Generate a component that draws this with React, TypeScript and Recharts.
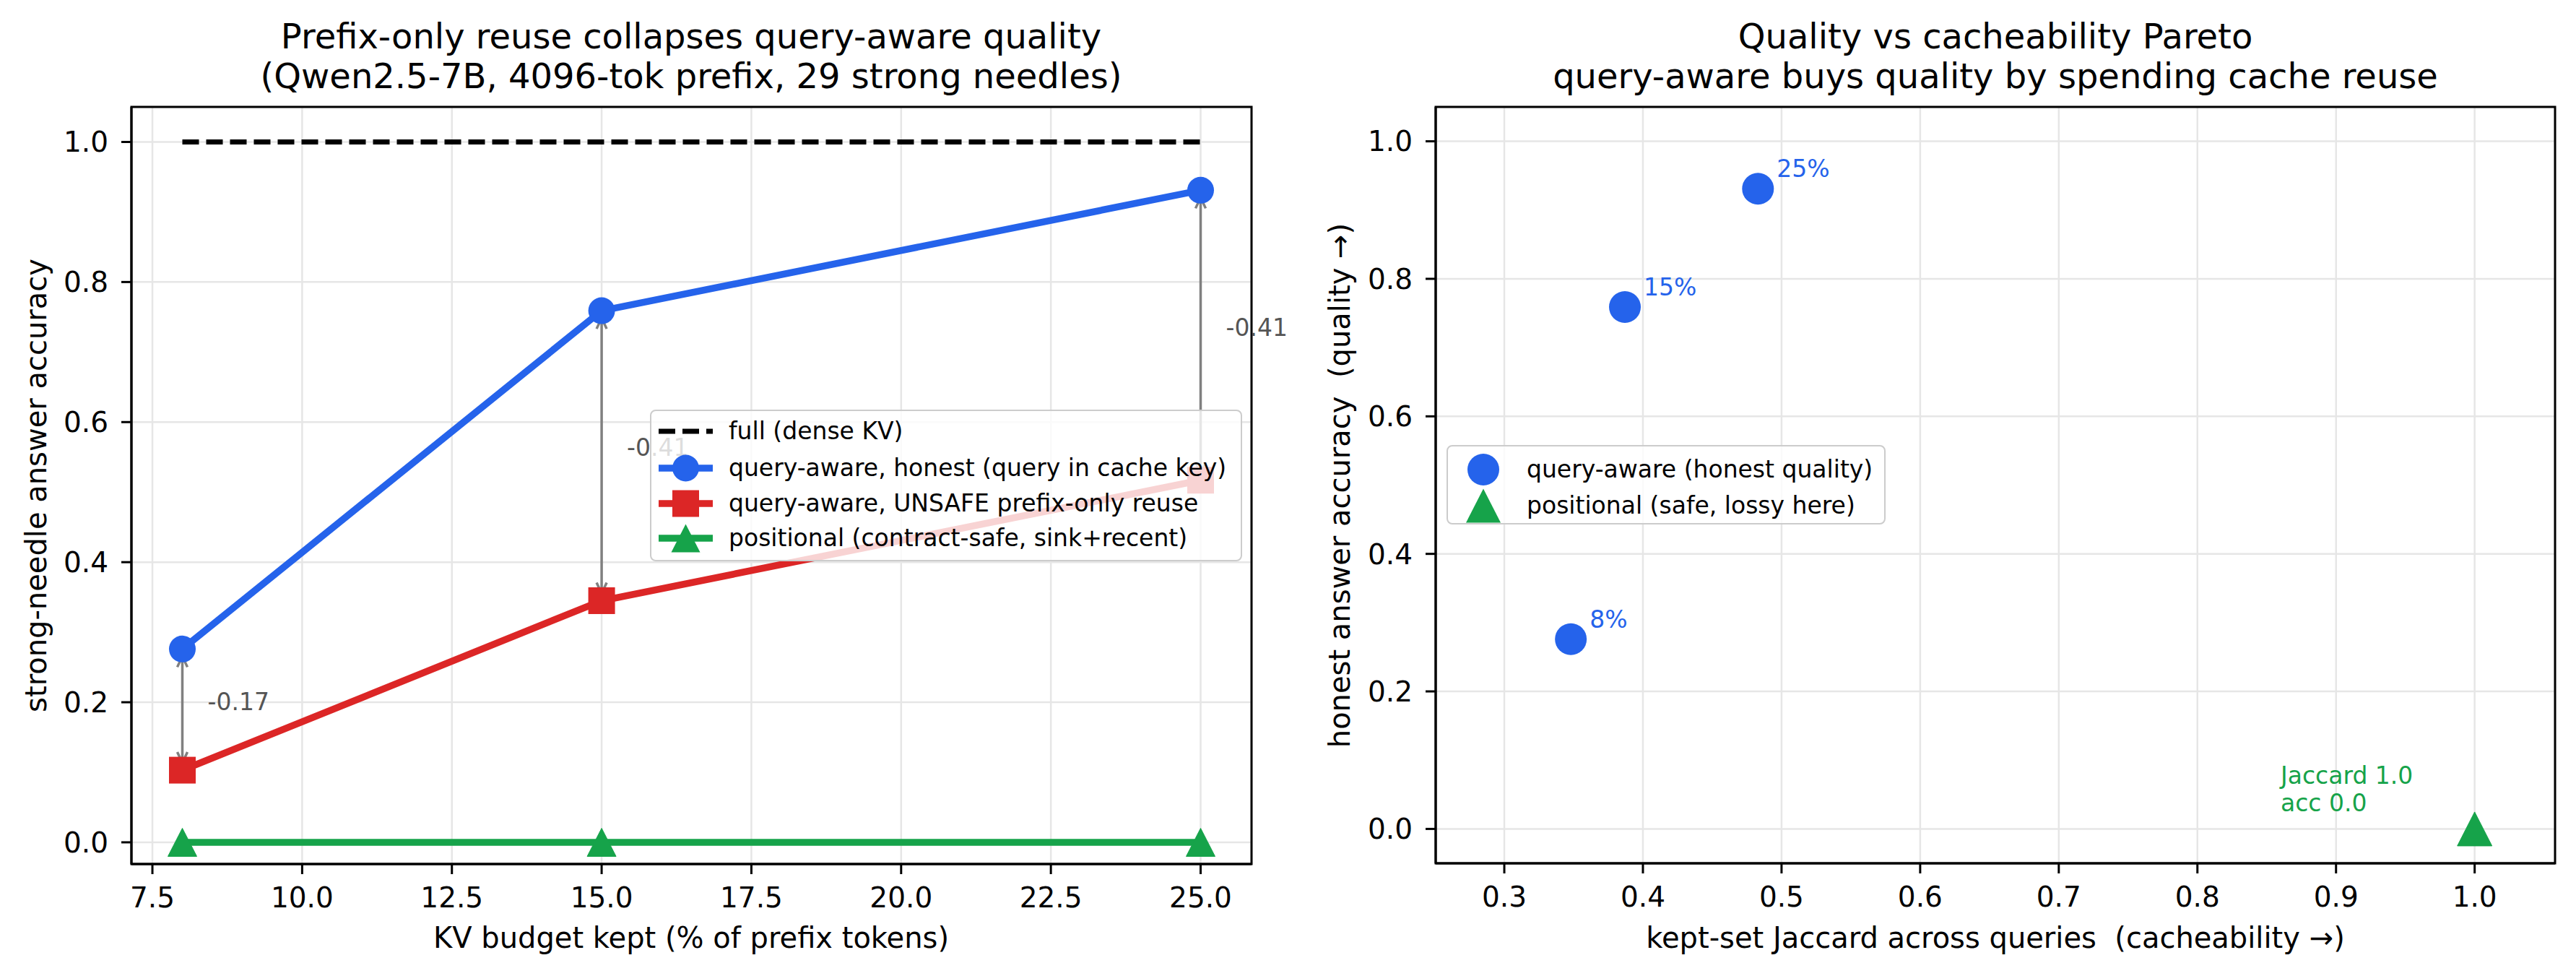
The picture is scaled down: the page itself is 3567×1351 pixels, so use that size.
import React from 'react';
import {
  LineChart, Line, ScatterChart, Scatter, XAxis, YAxis, CartesianGrid,
  ReferenceLine, ReferenceArea, ReferenceDot,
} from 'recharts';

// KV budget sweep (% of prefix tokens kept) and strong-needle accuracy per method
const BUDGETS = [8, 15, 25];
const FULL_ACC = [1.0, 1.0, 1.0];
const HONEST_ACC = [0.276, 0.759, 0.931];
const UNSAFE_ACC = [0.103, 0.345, 0.517];
const POSITIONAL_ACC = [0.0, 0.0, 0.0];

// Pareto view: kept-set Jaccard across queries vs honest accuracy
const QA_JACCARD = [0.348, 0.387, 0.483];
const QA_LABELS = ['8%', '15%', '25%'];
const POS_JACCARD = [1.0];
const POS_ACC = [0.0];

const BUDGET_TICKS = [7.5, 10, 12.5, 15, 17.5, 20, 22.5, 25];
const ACC_TICKS = [0, 0.2, 0.4, 0.6, 0.8, 1.0];
const JACCARD_TICKS = [0.3, 0.4, 0.5, 0.6, 0.7, 0.8, 0.9, 1.0];

const BUDGET_DOMAIN: [number, number] = [7.15, 25.85];
const LEFT_ACC_DOMAIN: [number, number] = [-0.031, 1.05];
const JACCARD_DOMAIN: [number, number] = [0.2505, 1.058];
const RIGHT_ACC_DOMAIN: [number, number] = [-0.05, 1.05];

const FONT = '"DejaVu Sans", sans-serif';
const BLUE = '#2563eb';
const RED = '#dc2626';
const GREEN = '#16a34a';
const GRID = '#e6e6e6';

const budgetData = BUDGETS.map((b, i) => ({
  budget: b,
  full: FULL_ACC[i],
  honest: HONEST_ACC[i],
  unsafe: UNSAFE_ACC[i],
  positional: POSITIONAL_ACC[i],
}));

const qaPoints = QA_JACCARD.map((x, i) => ({ x, y: HONEST_ACC[i], label: QA_LABELS[i] }));
const posPoints = POS_JACCARD.map((x, i) => ({ x, y: POS_ACC[i] }));

const fmt1 = (v: number) => v.toFixed(1);
const tickStyle = { fontSize: 39, fill: '#000' };
const axisLine = { stroke: '#000', strokeWidth: 3 };
const tickLine = { stroke: '#000', strokeWidth: 3 };

const triPath = (cx: number, cy: number, hw: number, hh: number) =>
  `M${cx},${cy - hh} L${cx + hw},${cy + hh} L${cx - hw},${cy + hh} Z`;

const circleDot = (r: number, color: string) => (p: any) =>
  <circle key={`c-${p.index}`} cx={p.cx} cy={p.cy} r={r} fill={color} />;
const squareDot = (s: number, color: string) => (p: any) =>
  <rect key={`s-${p.index}`} x={p.cx - s / 2} y={p.cy - s / 2} width={s} height={s} fill={color} />;
const triangleDot = (hw: number, hh: number, color: string) => (p: any) =>
  <path key={`t-${p.index}`} d={triPath(p.cx, p.cy, hw, hh)} fill={color} strokeLinejoin="round" stroke={color} strokeWidth={1} />;

// double-headed gap arrow between the unsafe and honest points, with its delta
const gapArrow = (delta: number) => (p: any) => {
  const { x1, y1, x2, y2 } = p;
  const shrink = 10;
  const yLow = Math.max(y1, y2) - shrink;
  const yHigh = Math.min(y1, y2) + shrink;
  const head = 15;
  const hw = 7;
  const midY = (y1 + y2) / 2 - 11;
  return (
    <g>
      <line x1={x1} y1={yLow} x2={x2} y2={yHigh} stroke="#808080" strokeWidth={3.5} />
      <polyline points={`${x1 - hw},${yLow - head} ${x1},${yLow} ${x1 + hw},${yLow - head}`} fill="none" stroke="#808080" strokeWidth={3.5} />
      <polyline points={`${x1 - hw},${yHigh + head} ${x1},${yHigh} ${x1 + hw},${yHigh + head}`} fill="none" stroke="#808080" strokeWidth={3.5} />
      <text x={x1 + 35} y={midY} fontSize={33} fill="#555" dominantBaseline="central">
        {(-delta).toFixed(2)}
      </text>
    </g>
  );
};

const qaShape = (p: any) => (
  <g>
    <circle cx={p.cx} cy={p.cy} r={22} fill={BLUE} />
    <text x={p.cx + 26} y={p.cy - 16} fontSize={33} fill={BLUE}>{p.payload.label}</text>
  </g>
);
const posShape = (p: any) => <path d={triPath(p.cx, p.cy, 24, 23.5)} fill={GREEN} stroke={GREEN} strokeWidth={1} strokeLinejoin="round" />;

const jaccardNote = (p: any) => (
  <text x={p.cx} y={p.cy} fontSize={33} fill={GREEN}>
    <tspan x={p.cx} y={p.cy - 34}>Jaccard 1.0</tspan>
    <tspan x={p.cx} y={p.cy + 4}>acc 0.0</tspan>
  </text>
);

type LegendRow = { label: string; handle: React.ReactNode; cy: number };

const LegendBox = ({ left, top, width, height, textLeft, rows }: {
  left: number; top: number; width: number; height: number; textLeft: number; rows: LegendRow[];
}) => (
  <div style={{
    position: 'absolute', left, top, width, height, boxSizing: 'border-box',
    border: '2.5px solid #cccccc', borderRadius: 8, background: 'rgba(255,255,255,0.8)',
  }}>
    {rows.map(r => (
      <React.Fragment key={r.label}>
        <div style={{ position: 'absolute', left: 8, top: r.cy - 25, width: 80, height: 50 }}>{r.handle}</div>
        <div style={{
          position: 'absolute', left: textLeft, top: r.cy - 25, height: 50, lineHeight: '50px',
          fontSize: 33, whiteSpace: 'nowrap', color: '#000',
        }}>{r.label}</div>
      </React.Fragment>
    ))}
  </div>
);

const lineHandle = (color: string, marker: React.ReactNode, dash?: string, width = 9.5) => (
  <svg width={80} height={50}>
    <line x1={2} y1={25} x2={77} y2={25} stroke={color} strokeWidth={width} strokeDasharray={dash} />
    {marker}
  </svg>
);

const App: React.FC = () => {
  return (
    <div style={{ position: 'absolute', left: 0, top: 0, width: 3567, height: 1351, background: '#fff', fontFamily: FONT }}>
      {/* left: accuracy vs KV budget */}
      <div style={{ position: 'absolute', left: 0, top: 0 }}>
        <LineChart width={1800} height={1351} data={budgetData} margin={{ top: 148, right: 67, bottom: 55, left: 82 }}>
          <CartesianGrid stroke={GRID} strokeWidth={2.5} />
          <XAxis dataKey="budget" type="number" domain={BUDGET_DOMAIN} ticks={BUDGET_TICKS} allowDataOverflow
            tickFormatter={fmt1} height={100} tick={tickStyle} axisLine={axisLine} tickLine={tickLine} tickSize={14} tickMargin={18} />
          <YAxis type="number" domain={LEFT_ACC_DOMAIN} ticks={ACC_TICKS} allowDataOverflow
            tickFormatter={fmt1} width={100} tick={tickStyle} axisLine={axisLine} tickLine={tickLine} tickSize={14} tickMargin={18} />
          <ReferenceArea x1={BUDGET_DOMAIN[0]} x2={BUDGET_DOMAIN[1]} y1={LEFT_ACC_DOMAIN[0]} y2={LEFT_ACC_DOMAIN[1]}
            fill="none" fillOpacity={0} stroke="#000" strokeWidth={3} ifOverflow="visible" />
          <Line dataKey="full" type="linear" stroke="#000" strokeWidth={7} strokeDasharray="23 10" dot={false} activeDot={false} isAnimationActive={false} />
          <Line dataKey="honest" type="linear" stroke={BLUE} strokeWidth={9.5} dot={circleDot(18.5, BLUE)} activeDot={false} isAnimationActive={false} />
          <Line dataKey="unsafe" type="linear" stroke={RED} strokeWidth={9.5} dot={squareDot(37, RED)} activeDot={false} isAnimationActive={false} />
          <Line dataKey="positional" type="linear" stroke={GREEN} strokeWidth={9.5} dot={triangleDot(20, 19.5, GREEN)} activeDot={false} isAnimationActive={false} />
          {BUDGETS.map((b, i) => (
            <ReferenceLine key={b} segment={[{ x: b, y: UNSAFE_ACC[i] }, { x: b, y: HONEST_ACC[i] }]}
              shape={gapArrow(HONEST_ACC[i] - UNSAFE_ACC[i])} />
          ))}
        </LineChart>
      </div>

      {/* right: quality vs cacheability */}
      <div style={{ position: 'absolute', left: 1800, top: 0 }}>
        <ScatterChart width={1767} height={1351} margin={{ top: 148, right: 29, bottom: 56, left: 88 }}>
          <CartesianGrid stroke={GRID} strokeWidth={2.5} />
          <XAxis dataKey="x" type="number" domain={JACCARD_DOMAIN} ticks={JACCARD_TICKS} allowDataOverflow
            tickFormatter={fmt1} height={100} tick={tickStyle} axisLine={axisLine} tickLine={tickLine} tickSize={14} tickMargin={18} />
          <YAxis dataKey="y" type="number" domain={RIGHT_ACC_DOMAIN} ticks={ACC_TICKS} allowDataOverflow
            tickFormatter={fmt1} width={100} tick={tickStyle} axisLine={axisLine} tickLine={tickLine} tickSize={14} tickMargin={18} />
          <ReferenceArea x1={JACCARD_DOMAIN[0]} x2={JACCARD_DOMAIN[1]} y1={RIGHT_ACC_DOMAIN[0]} y2={RIGHT_ACC_DOMAIN[1]}
            fill="none" fillOpacity={0} stroke="#000" strokeWidth={3} ifOverflow="visible" />
          <Scatter data={qaPoints} shape={qaShape} isAnimationActive={false} />
          <Scatter data={posPoints} shape={posShape} isAnimationActive={false} />
          <ReferenceDot x={0.86} y={0.03} r={0} shape={jaccardNote} ifOverflow="visible" />
        </ScatterChart>
      </div>

      {/* titles and axis labels */}
      <svg width={3567} height={1351} style={{ position: 'absolute', left: 0, top: 0, pointerEvents: 'none' }}>
        <g fontSize={48} textAnchor="middle" fill="#000">
          <text x={957} y={67}>Prefix-only reuse collapses query-aware quality</text>
          <text x={957} y={122}>(Qwen2.5-7B, 4096-tok prefix, 29 strong needles)</text>
          <text x={2763} y={67}>Quality vs cacheability Pareto</text>
          <text x={2763} y={122}>query-aware buys quality by spending cache reuse</text>
        </g>
        <g fontSize={40} textAnchor="middle" fill="#000">
          <text x={957} y={1312}>KV budget kept (% of prefix tokens)</text>
          <text x={2763} y={1312} style={{ whiteSpace: 'pre' }}>kept-set Jaccard across queries  (cacheability →)</text>
          <text x={50} y={672} dominantBaseline="central" transform="rotate(-90, 50, 672)">strong-needle answer accuracy</text>
          <text x={1855} y={672} dominantBaseline="central" transform="rotate(-90, 1855, 672)" style={{ whiteSpace: 'pre' }}>honest answer accuracy  (quality →)</text>
        </g>
      </svg>

      <LegendBox left={900} top={567} width={820} height={210} textLeft={107} rows={[
        { label: 'full (dense KV)', cy: 28, handle: lineHandle('#000', null, '23 10', 7) },
        { label: 'query-aware, honest (query in cache key)', cy: 79, handle: lineHandle(BLUE, <circle cx={39.5} cy={25} r={18.5} fill={BLUE} />) },
        { label: 'query-aware, UNSAFE prefix-only reuse', cy: 128, handle: lineHandle(RED, <rect x={21} y={6.5} width={37} height={37} fill={RED} />) },
        { label: 'positional (contract-safe, sink+recent)', cy: 176, handle: lineHandle(GREEN, <path d={triPath(39.5, 25, 20, 19.5)} fill={GREEN} />) },
      ]} />

      <LegendBox left={2003} top={616} width={608} height={110} textLeft={109} rows={[
        { label: 'query-aware (honest quality)', cy: 32, handle: <svg width={80} height={50}><circle cx={41} cy={25} r={22} fill={BLUE} /></svg> },
        { label: 'positional (safe, lossy here)', cy: 82, handle: <svg width={80} height={50}><path d={triPath(41, 25, 24, 23.5)} fill={GREEN} /></svg> },
      ]} />
    </div>
  );
};

export default App;
